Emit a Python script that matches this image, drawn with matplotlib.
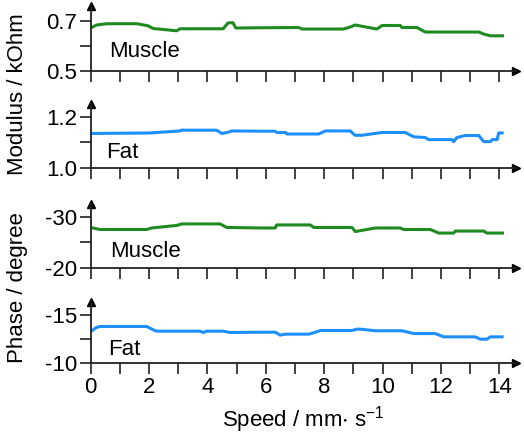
import numpy as np
import matplotlib
matplotlib.use("Agg")
from matplotlib import pyplot as plt

plt.rcParams['font.family'] = ['Liberation Sans', 'DejaVu Sans']
plt.rcParams['mathtext.default'] = 'regular'

# speed (mm/s) and values
muscle_mod_x = [0, 0.2, 0.55, 1.58, 1.96, 2.14, 2.95, 3.06, 4.54, 4.7, 4.87, 4.97, 5.87,
                7.12, 7.24, 8.66, 8.89, 9.06, 9.8, 9.98, 10.6, 10.66, 11.17, 11.46,
                13.29, 13.46, 13.69, 14.1]
muscle_mod_y = [0.671, 0.683, 0.688, 0.688, 0.68, 0.669, 0.66, 0.668, 0.668, 0.691, 0.692,
                0.671, 0.672, 0.673, 0.667, 0.667, 0.675, 0.683, 0.667, 0.681, 0.681,
                0.673, 0.673, 0.655, 0.655, 0.647, 0.64, 0.64]

fat_mod_x = [0, 2.03, 3.06, 3.1, 4.31, 4.49, 4.71, 4.83, 5.87, 6.32, 6.37, 6.67, 6.73,
             7.81, 8.04, 8.89, 9.05, 9.29, 9.98, 10.77, 11.06, 11.46, 11.57, 12.37,
             12.43, 12.54, 12.83, 13.29, 13.46, 13.69, 13.75, 13.92, 13.97, 14.09]
fat_mod_y = [1.135, 1.137, 1.145, 1.148, 1.148, 1.135, 1.14, 1.145, 1.144, 1.144, 1.139,
             1.139, 1.133, 1.133, 1.145, 1.145, 1.128, 1.128, 1.139, 1.139, 1.122,
             1.119, 1.111, 1.111, 1.103, 1.119, 1.127, 1.127, 1.103, 1.103, 1.111,
             1.111, 1.137, 1.137]

muscle_ph_x = [0, 0.32, 1.92, 2.09, 2.95, 3.12, 4.43, 4.66, 5.87, 6.32, 6.37, 7.52, 7.64,
               8.95, 9.06, 9.75, 10.6, 10.72, 11.63, 11.92, 12.43, 12.49, 13.46, 13.57,
               14.1]
muscle_ph_y = [-27.9, -27.5, -27.5, -27.8, -28.3, -28.6, -28.6, -27.9, -27.8, -27.8,
               -28.4, -28.4, -27.9, -27.9, -27.1, -27.8, -27.8, -27.5, -27.5, -26.8,
               -26.8, -27.2, -27.2, -26.8, -26.8]

fat_ph_x = [0, 0.2, 0.32, 1.92, 2.14, 2.25, 3.74, 3.86, 3.97, 4.54, 4.77, 5.87, 6.32,
            6.49, 6.66, 7.47, 7.7, 7.87, 8.95, 9.12, 9.29, 9.75, 10.66, 11.06, 11.8,
            12.09, 13.17, 13.34, 13.57, 13.69, 14.09]
fat_ph_y = [-13.27, -13.69, -13.79, -13.79, -13.45, -13.31, -13.31, -13.17, -13.31,
            -13.31, -13.17, -13.2, -13.2, -12.9, -13.0, -13.0, -13.2, -13.38, -13.38,
            -13.52, -13.5, -13.35, -13.35, -13.06, -13.06, -12.72, -12.72, -12.48,
            -12.48, -12.72, -12.72]

green = '#1f8a1f'
blue = '#1e8fff'

panels = [
    # x, y, colour, label, label pos, ylim, major ticks, minor tick, axes rect
    (muscle_mod_x, muscle_mod_y, green, 'Muscle', (0.62, 0.576), (0.5, 0.758),
     [0.5, 0.7], ['0.5', '0.7'], 0.6, [0.173, 0.837, 0.812, 0.149]),
    (fat_mod_x, fat_mod_y, blue, 'Fat', (0.52, 1.06), (1.0, 1.25),
     [1.0, 1.2], ['1.0', '1.2'], 1.1, [0.173, 0.615, 0.812, 0.146]),
    (muscle_ph_x, muscle_ph_y, green, 'Muscle', (0.66, -23.1), (-20, -32.5),
     [-20, -30], ['-20', '-30'], -25, [0.173, 0.386, 0.812, 0.146]),
    (fat_ph_x, fat_ph_y, blue, 'Fat', (0.59, -11.4), (-10, -16.35),
     [-10, -15], ['-10', '-15'], -12.5, [0.173, 0.167, 0.812, 0.141]),
]

fig = plt.figure(figsize=(5.24, 4.36), dpi=100)

for i, (xs, ys, col, lab, lpos, ylim, ticks, tlabs, minor, rect) in enumerate(panels):
    ax = fig.add_axes(rect)
    ax.plot(xs, ys, color=col, lw=2.2, solid_joinstyle='round')
    ax.set_xlim(0, 14.57)
    ax.set_ylim(*ylim)
    ax.text(lpos[0], lpos[1], lab, fontsize=16, va='center', ha='left')
    for s in ['top', 'right']:
        ax.spines[s].set_visible(False)
    for s in ['left', 'bottom']:
        ax.spines[s].set_linewidth(1.3)
        ax.spines[s].set_color('#222222')
    ax.set_yticks(ticks)
    ax.set_yticklabels(tlabs)
    ax.set_yticks([minor], minor=True)
    ax.set_xticks(np.arange(0, 15, 1))
    ax.tick_params(axis='both', which='both', direction='out', length=8, width=1.3,
                   color='#333333', labelsize=16, pad=2)
    if i == 3:
        ax.set_xticklabels([str(v) if v % 2 == 0 else '' for v in range(15)])
        ax.set_xlabel('Speed / mm$\\cdot$ s$^{-1}$', fontsize=16, labelpad=4)
    else:
        ax.set_xticklabels([])
    # arrow heads on the axes
    ax.plot(0, 1, marker='^', color='black', ms=6, transform=ax.transAxes, clip_on=False)
    ax.plot(1, 0, marker='>', color='black', ms=6, transform=ax.transAxes, clip_on=False)

fig.text(0.033, 1 - 94 / 436, 'Modulus / kOhm', rotation=90, fontsize=16,
         ha='center', va='center')
fig.text(0.033, 1 - 288 / 436, 'Phase / degree', rotation=90, fontsize=16,
         ha='center', va='center')

fig.savefig('out.png', dpi=100)
